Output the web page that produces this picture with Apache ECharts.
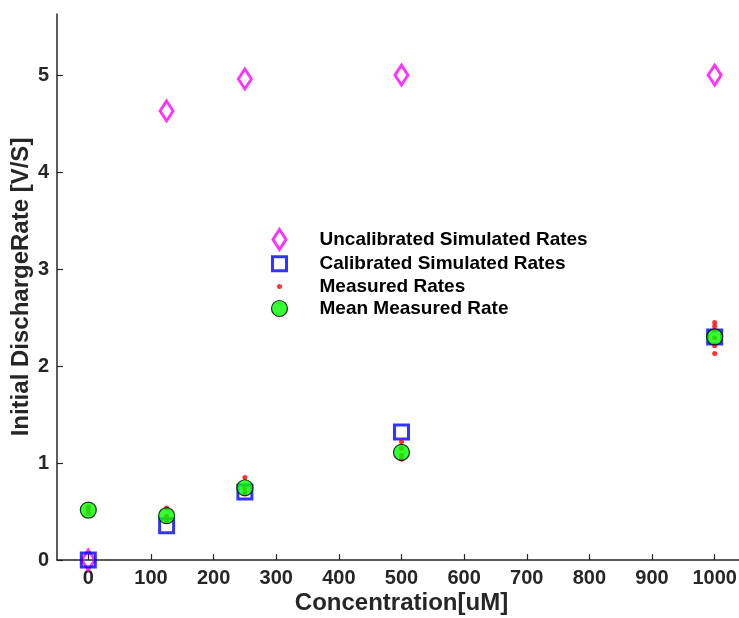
<!DOCTYPE html>
<html>
<head>
<meta charset="utf-8">
<script src="https://cdn.jsdelivr.net/npm/echarts@6/dist/echarts.min.js"></script>
<style>html,body{margin:0;padding:0;background:#fff}#c{width:739px;height:618px}</style>
</head>
<body>
<div id="c"></div>
<script>
const concentrations = [0, 125, 250, 500, 1000];
const uncalibrated = [0.0, 4.63, 4.96, 5.0, 5.0];
const calibrated = [0.0, 0.354, 0.70, 1.32, 2.30];
const meanMeasured = [0.515, 0.457, 0.745, 1.11, 2.30];
const measuredX = [0, 0, 0, 125, 125, 125, 125, 250, 250, 250, 250, 500, 500, 500, 500, 1000, 1000, 1000, 1000, 1000, 1000];
const measuredY = [0.48, 0.52, 0.55, 0.536, 0.45, 0.40, 0.44, 0.85, 0.74, 0.70, 0.68, 1.22, 1.15, 1.08, 1.04, 2.45, 2.41, 2.37, 2.29, 2.21, 2.13];
const xTicks = [0, 100, 200, 300, 400, 500, 600, 700, 800, 900, 1000];
const yTicks = [0, 1, 2, 3, 4, 5];
const names = ['Uncalibrated Simulated Rates', 'Calibrated Simulated Rates', 'Measured Rates', 'Mean Measured Rate'];

const pair = (xs, ys) => xs.map((x, i) => [x, ys[i]]);
const axisCol = '#262626';
const font = 'Liberation Sans, Arial, sans-serif';

const diamondPath = 'path://M0,-10 L6.5,0 L0,10 L-6.5,0 Z';
const legendIcons = [
  'path://M0,0 M20,20 M10,0 L16.5,10 L10,20 L3.5,10 Z',
  'path://M0,0 M20,20 M3,3 L17,3 L17,17 L3,17 Z',
  'path://M0,0 M20,20 M12.5,10 A2.5,2.5 0 1 1 7.5,10 A2.5,2.5 0 1 1 12.5,10 Z',
  'path://M0,0 M20,20 M18,10 A8,8 0 1 1 2,10 A8,8 0 1 1 18,10 Z'
];
const legendBorders = [3, 3, 0, 1.2];

const chart = echarts.init(document.getElementById('c'), null, {renderer: 'canvas'});
chart.setOption({
  animation: false,
  backgroundColor: '#fff',
  grid: {left: 57, right: -7, top: 14, bottom: 58, outerBoundsMode: 'none', containLabel: false},
  xAxis: {
    type: 'value', min: -50, max: 1050,
    name: 'Concentration[uM]', nameLocation: 'middle', nameGap: 31, nameMoveOverlap: false,
    nameTextStyle: {fontFamily: font, fontWeight: 'bold', fontSize: 24, color: axisCol},
    axisLine: {show: true, onZero: false, lineStyle: {color: axisCol, width: 1.5}},
    axisTick: {show: true, inside: true, length: 6, customValues: xTicks, lineStyle: {color: axisCol, width: 1.2}},
    axisLabel: {customValues: xTicks, formatter: v => String(v), hideOverlap: false, fontFamily: font, fontWeight: 'bold', fontSize: 20, color: axisCol, margin: 8},
    splitLine: {show: false}
  },
  yAxis: {
    type: 'value', min: 0, max: 5.63,
    name: 'Initial DischargeRate [V/S]', nameLocation: 'middle', nameGap: 24, nameRotate: 90, nameMoveOverlap: false,
    nameTextStyle: {fontFamily: font, fontWeight: 'bold', fontSize: 24, color: axisCol},
    axisLine: {show: true, onZero: false, lineStyle: {color: axisCol, width: 1.5}},
    axisTick: {show: true, inside: true, length: 6, customValues: yTicks, lineStyle: {color: axisCol, width: 1.2}},
    axisLabel: {customValues: yTicks, formatter: v => String(v), fontFamily: font, fontWeight: 'bold', fontSize: 20, color: axisCol, margin: 8},
    splitLine: {show: false}
  },
  legend: {
    left: 263, top: 223, orient: 'vertical', itemGap: 1.3, itemWidth: 20, itemHeight: 20,
    textStyle: {fontFamily: font, fontWeight: 'bold', fontSize: 19, lineHeight: 20, color: '#000', padding: [0, 0, 0, 25]},
    data: names.map((n, i) => ({name: n, icon: legendIcons[i], itemStyle: {borderWidth: legendBorders[i]}}))
  },
  series: [
    {
      name: names[0], type: 'scatter', data: pair(concentrations, uncalibrated), z: 2,
      symbol: diamondPath, symbolSize: [13, 20],
      itemStyle: {color: 'rgba(255,255,255,0)', borderColor: '#ff00ff', borderWidth: 3}
    },
    {
      name: names[1], type: 'scatter', data: pair(concentrations, calibrated), z: 3,
      symbol: 'rect', symbolSize: 14,
      itemStyle: {color: 'rgba(255,255,255,0)', borderColor: '#0000ff', borderWidth: 3}
    },
    {
      name: names[2], type: 'scatter', data: pair(measuredX, measuredY), z: 4,
      symbol: 'circle', symbolSize: 5,
      itemStyle: {color: '#ff0000'}
    },
    {
      name: names[3], type: 'scatter', data: pair(concentrations, meanMeasured), z: 5,
      symbol: 'circle', symbolSize: 16,
      itemStyle: {color: '#00ff00', borderColor: '#000', borderWidth: 1.2}
    }
  ]
});
</script>
</body>
</html>
